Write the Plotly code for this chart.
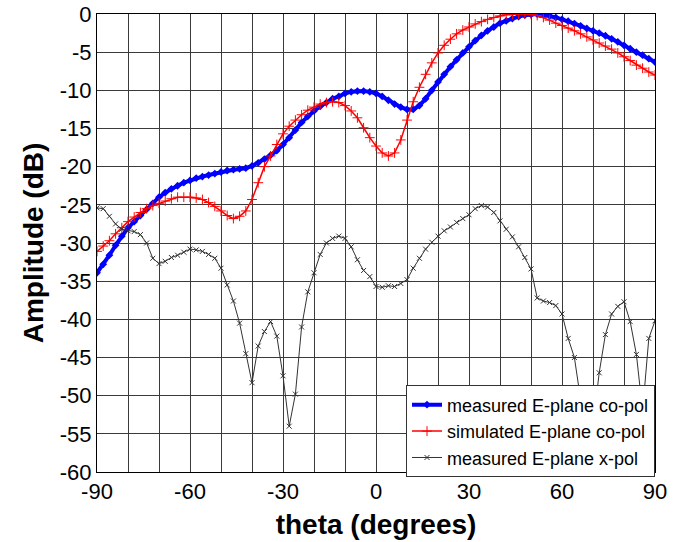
import plotly.graph_objects as go

theta = list(range(-90, 91, 2))

measured_copol = [
    -33.9, -32.8, -31.6, -30.3, -29.1, -28.0, -27.2, -26.4, -25.6, -24.8,
    -24.0, -23.4, -22.9, -22.5, -22.1, -21.8, -21.5, -21.3, -21.1, -20.9,
    -20.7, -20.5, -20.4, -20.3, -20.2, -19.9, -19.5, -19.0, -18.5, -17.9,
    -17.1, -16.2, -15.2, -14.2, -13.4, -12.7, -12.1, -11.6, -11.1, -10.8,
    -10.4, -10.2, -10.1, -10.1, -10.2, -10.4, -10.8, -11.3, -11.8, -12.2,
    -12.5, -12.5, -12.0, -11.1, -10.0, -8.9, -7.9, -6.9, -6.0, -5.1,
    -4.3, -3.5, -2.8, -2.2, -1.7, -1.2, -0.9, -0.6, -0.35, -0.15,
    -0.05, 0.0, -0.1, -0.25, -0.45, -0.7, -0.95, -1.25, -1.55, -1.9,
    -2.2, -2.5, -2.85, -3.25, -3.65, -4.1, -4.55, -5.0, -5.4, -5.85,
    -6.3,
]

simulated_copol = [
    -31.1, -30.4, -29.7, -28.8, -28.0, -27.2, -26.6, -26.0, -25.5, -25.1,
    -24.8, -24.5, -24.2, -24.0, -24.0, -24.0, -24.1, -24.3, -24.7, -25.2,
    -25.8, -26.4, -26.8, -26.5, -25.8, -24.3, -22.1, -20.0, -18.6, -17.1,
    -15.7, -14.7, -13.9, -13.2, -12.6, -12.2, -11.8, -11.6, -11.5, -11.6,
    -12.0, -12.7, -13.6, -14.9, -16.2, -17.3, -18.2, -18.6, -18.2, -16.5,
    -13.9, -11.5, -9.6, -7.9, -6.4, -5.1, -4.1, -3.3, -2.6, -2.1,
    -1.7, -1.3, -1.0, -0.7, -0.45, -0.25, -0.1, -0.03, 0.0, 0.0,
    -0.05, -0.2, -0.45, -0.8, -1.2, -1.5, -1.85, -2.2, -2.6, -3.0,
    -3.4, -3.8, -4.2, -4.6, -5.1, -5.6, -6.1, -6.7, -7.1, -7.6,
    -8.0,
]

measured_xpol = [
    -25.4, -25.5, -26.5, -27.5, -28.2, -28.4, -28.5, -28.9, -30.0, -32.0,
    -32.7, -32.4, -31.9, -31.6, -31.2, -30.8, -30.9, -31.1, -31.5, -32.0,
    -33.3, -35.5, -37.6, -40.5, -44.5, -48.3, -43.5, -41.6, -40.3, -42.2,
    -47.4, -54.0, -49.8, -41.0, -36.4, -33.9, -31.5, -30.0, -29.4, -29.1,
    -29.4, -30.5, -32.2, -33.6, -34.4, -35.7, -35.8, -35.6, -35.7, -35.3,
    -34.8, -33.3, -32.0, -30.8, -29.9, -29.1, -28.4, -27.9, -27.3, -26.8,
    -26.3, -25.5, -25.1, -25.3, -26.0, -27.1, -28.2, -29.2, -30.5, -31.9,
    -33.4, -37.2, -37.6, -37.8, -38.2, -39.3, -42.5, -45.0, -50.5, -57.0,
    -54.0, -47.0, -42.0, -39.3, -38.3, -37.7, -40.3, -44.6, -52.0, -42.5,
    -40.2,
]

x_ticks = [-90, -60, -30, 0, 30, 60, 90]
y_ticks = list(range(-60, 1, 5))

FONT = "Liberation Sans, Arial, sans-serif"
GRID = "#3a3a3a"

fig = go.Figure()
fig.add_trace(go.Scatter(
    x=theta, y=measured_copol, name="measured E-plane co-pol",
    mode="lines+markers",
    line=dict(color="#0000ff", width=4),
    marker=dict(symbol="diamond", size=6, color="#0000ff"),
))
fig.add_trace(go.Scatter(
    x=theta, y=simulated_copol, name="simulated E-plane co-pol",
    mode="lines+markers",
    line=dict(color="#ff0000", width=1.5),
    marker=dict(symbol="cross-thin-open", size=7, line=dict(color="#ff0000", width=1)),
))
fig.add_trace(go.Scatter(
    x=theta, y=measured_xpol, name="measured E-plane x-pol",
    mode="lines+markers",
    line=dict(color="#333333", width=1),
    marker=dict(symbol="x-thin-open", size=5, line=dict(color="#333333", width=1)),
))

fig.update_layout(
    width=676, height=542,
    margin=dict(l=97, r=21, t=14, b=70),
    paper_bgcolor="white", plot_bgcolor="white",
    font=dict(family=FONT, color="black"),
    legend=dict(
        x=1, y=-0.012, xanchor="right", yanchor="bottom",
        bgcolor="white", bordercolor="#333333", borderwidth=1,
        font=dict(size=18, family=FONT),
        tracegroupgap=0, itemwidth=30,
    ),
    showlegend=True,
)
fig.update_xaxes(
    range=[-90, 90], tickvals=x_ticks, ticktext=[str(v) for v in x_ticks],
    showgrid=True, gridcolor=GRID, gridwidth=1,
    minor=dict(dtick=10, tick0=-90, showgrid=True, gridcolor=GRID, gridwidth=1),
    showline=True, linecolor="black", linewidth=1, mirror=True,
    zeroline=False, ticks="", automargin=False,
    tickfont=dict(size=22, family=FONT),
    title=dict(text="<b>theta (degrees)</b>", font=dict(size=28, family=FONT), standoff=10),
)
fig.update_yaxes(
    range=[-60, 0], tickvals=y_ticks, ticktext=[str(v) for v in y_ticks],
    showgrid=True, gridcolor=GRID, gridwidth=1,
    showline=True, linecolor="black", linewidth=1, mirror=True,
    zeroline=False, ticks="", automargin=False,
    tickfont=dict(size=22, family=FONT),
    title=dict(text="<b>Amplitude (dB)</b>", font=dict(size=28, family=FONT), standoff=8),
)

fig.write_html(
    "out.html",
    config={"displayModeBar": False},
    post_script="document.body.style.margin='0';document.body.style.overflow='hidden';",
)
